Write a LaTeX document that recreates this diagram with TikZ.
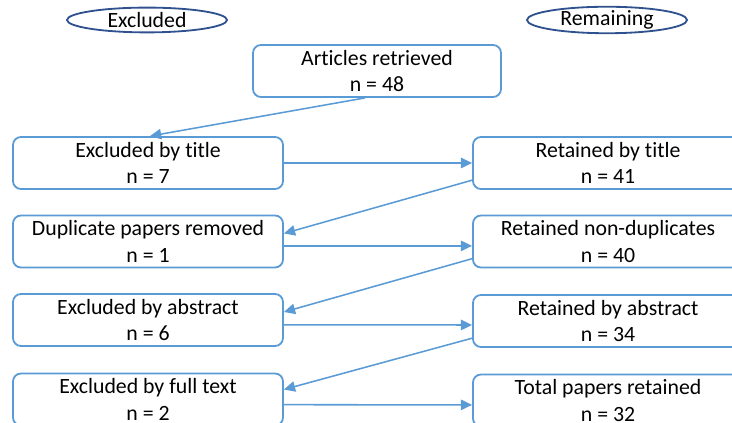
\documentclass[tikz,border=0pt]{standalone}
\usepackage{fontspec}
\setmainfont{Carlito}[Ligatures=NoCommon]
\usetikzlibrary{arrows.meta,calc,shapes.geometric}
\definecolor{lineblue}{RGB}{91,155,213}
\definecolor{rimblue}{RGB}{47,82,143}
\tikzset{
  flow/.style={-{Triangle[length=2.8mm, width=2.6mm]}, line width=1.1pt, draw=lineblue},
  stage/.style={draw=lineblue, line width=1.3pt, rectangle, rounded corners=0.2cm, minimum width=6.75cm, minimum height=1.3cm, inner sep=0pt, align=center, font=\fontsize{15.5}{19}\selectfont},
  head/.style={draw=rimblue, line width=1.3pt, ellipse, minimum width=4.0cm, minimum height=0.62cm, inner sep=0pt, font=\fontsize{15.5}{16}\selectfont}
}

\begin{document}
\begin{tikzpicture}
  \useasboundingbox (0,0) rectangle (18.3,10.575);
  \node[head] (exc) at (3.675,10.075) {Excluded};
  \node[head] (rem) at (15.175,10.075) {Remaining};

  \node[stage, minimum width=6.2cm] (art) at (9.425,8.8) {Articles retrieved\\n = 48};
  \node[stage] (exT) at (3.7,6.5) {Excluded by title\\n = 7};
  \node[stage] (retT) at (15.2,6.5) {Retained by title\\n = 41};
  \node[stage] (dup) at (3.7,4.5375) {Duplicate papers removed\\n = 1};
  \node[stage] (retN) at (15.2,4.5375) {Retained non-duplicates\\n = 40};
  \node[stage] (exA) at (3.7,2.575) {Excluded by abstract\\n = 6};
  \node[stage] (retA) at (15.2,2.55) {Retained by abstract\\n = 34};
  \node[stage] (exF) at (3.7,0.5875) {Excluded by full text\\n = 2};
  \node[stage] (tot) at (15.2,0.5625) {Total papers retained\\n = 32};

  \draw[flow] ($(art.south)+(-0.3,0)$) -- ($(exT.north)+(0.05,0)$);
  \draw[flow] (exT.east) -- (retT.west);
  \draw[flow] ($(retT.west)+(0,-0.43)$) -- ($(dup.east)+(0,0.2)$);
  \draw[flow] ($(dup.east)+(0,-0.11)$) -- ($(retN.west)+(0,-0.11)$);
  \draw[flow] ($(retN.west)+(0,-0.43)$) -- ($(exA.east)+(0,0.2)$);
  \draw[flow] ($(exA.east)+(0,-0.12)$) -- ($(retA.west)+(0,-0.1)$);
  \draw[flow] ($(retA.west)+(0,-0.43)$) -- ($(exF.east)+(0,0.25)$);
  \draw[flow] ($(exF.east)+(0,-0.13)$) -- ($(tot.west)+(0,-0.11)$);
\end{tikzpicture}
\end{document}
